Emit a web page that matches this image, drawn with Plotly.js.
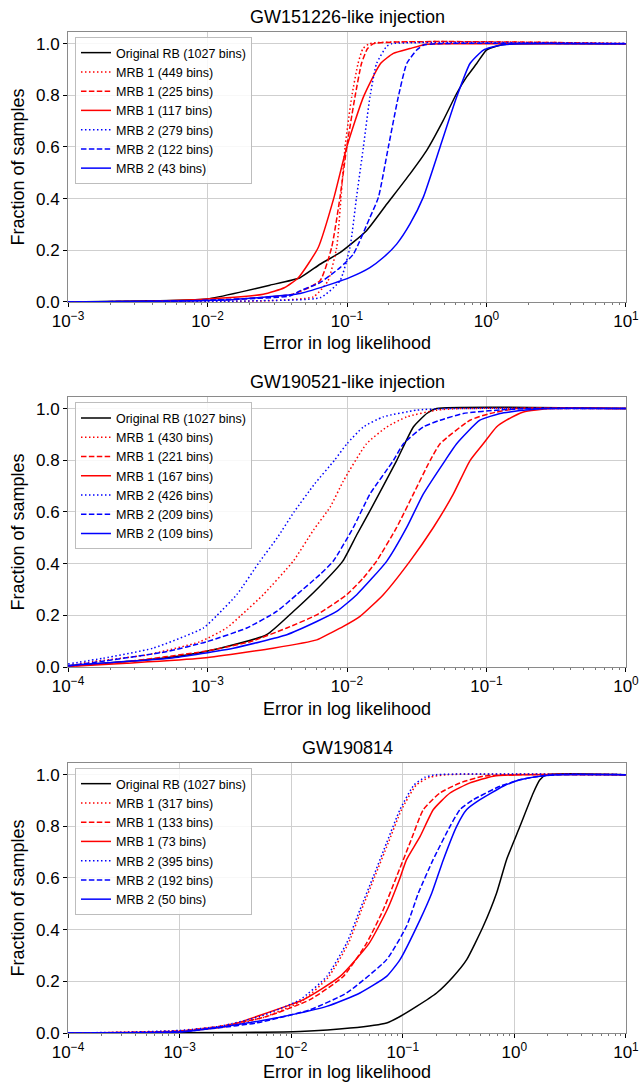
<!DOCTYPE html>
<html>
<head>
<meta charset="utf-8">
<script src="https://cdn.plot.ly/plotly-3.0.1.min.js"></script>
<style>html,body{margin:0;padding:0;background:#fff;}#chart{width:639px;height:1082px;}</style>
</head>
<body>
<div id="chart"></div>
<script>
// ---------- Panel titles, axis titles, legend labels, tick labels ----------
const panelTitles = ["GW151226-like injection", "GW190521-like injection", "GW190814"];
const p1Labels = ["Original RB (1027 bins)", "MRB 1 (449 bins)", "MRB 1 (225 bins)", "MRB 1 (117 bins)", "MRB 2 (279 bins)", "MRB 2 (122 bins)", "MRB 2 (43 bins)"];
const p2Labels = ["Original RB (1027 bins)", "MRB 1 (430 bins)", "MRB 1 (221 bins)", "MRB 1 (167 bins)", "MRB 2 (426 bins)", "MRB 2 (209 bins)", "MRB 2 (109 bins)"];
const p3Labels = ["Original RB (1027 bins)", "MRB 1 (317 bins)", "MRB 1 (133 bins)", "MRB 1 (73 bins)", "MRB 2 (395 bins)", "MRB 2 (192 bins)", "MRB 2 (50 bins)"];
const xTitle = "Error in log likelihood";
const yTitle = "Fraction of samples";
const p1TickVals = [0.001, 0.01, 0.1, 1, 10];
const p1TickText = ["10<sup>\u22123</sup>", "10<sup>\u22122</sup>", "10<sup>\u22121</sup>", "10<sup>0</sup>", "10<sup>1</sup>"];
const p2TickVals = [0.0001, 0.001, 0.01, 0.1, 1];
const p2TickText = ["10<sup>\u22124</sup>", "10<sup>\u22123</sup>", "10<sup>\u22122</sup>", "10<sup>\u22121</sup>", "10<sup>0</sup>"];
const p3TickVals = [0.0001, 0.001, 0.01, 0.1, 1, 10];
const p3TickText = ["10<sup>\u22124</sup>", "10<sup>\u22123</sup>", "10<sup>\u22122</sup>", "10<sup>\u22121</sup>", "10<sup>0</sup>", "10<sup>1</sup>"];

// ---------- Panel 1: GW151226-like ----------
const p1_black_x = [0.001, 0.00316, 0.01, 0.0178, 0.028, 0.046, 0.064, 0.089, 0.138, 0.193, 0.283, 0.372, 0.49, 0.611, 0.721, 0.851, 1.0, 1.25, 1.64, 10];
const p1_black_y = [0, 0.004, 0.012, 0.04, 0.065, 0.094, 0.146, 0.191, 0.276, 0.379, 0.496, 0.586, 0.703, 0.807, 0.871, 0.923, 0.975, 0.994, 1.0, 1.0];
const p1_r449_x = [0.001, 0.01, 0.0282, 0.0575, 0.0731, 0.0843, 0.0906, 0.0968, 0.108, 0.120, 0.13, 0.145, 10];
const p1_r449_y = [0, 0.002, 0.005, 0.02, 0.082, 0.211, 0.405, 0.599, 0.793, 0.923, 0.98, 1.0, 1.0];
const p1_r225_x = [0.001, 0.0063, 0.0145, 0.041, 0.064, 0.0776, 0.0891, 0.0995, 0.114, 0.127, 0.14, 0.155, 10];
const p1_r225_y = [0, 0.004, 0.01, 0.03, 0.082, 0.211, 0.405, 0.599, 0.793, 0.923, 0.98, 1.0, 1.0];
const p1_r117_x = [0.001, 0.00316, 0.0089, 0.0251, 0.0355, 0.0448, 0.0622, 0.0807, 0.0995, 0.131, 0.174, 0.215, 0.283, 0.372, 0.6, 10];
const p1_r117_y = [0, 0.002, 0.01, 0.03, 0.055, 0.094, 0.211, 0.405, 0.599, 0.793, 0.923, 0.962, 0.981, 0.998, 1.0, 1.0];
const p1_b279_x = [0.001, 0.01, 0.024, 0.0646, 0.0891, 0.105, 0.117, 0.131, 0.146, 0.163, 0.193, 0.21, 10];
const p1_b279_y = [0, 0.002, 0.005, 0.017, 0.082, 0.211, 0.405, 0.599, 0.793, 0.923, 0.99, 1.0, 1.0];
const p1_b122_x = [0.001, 0.0063, 0.0145, 0.0389, 0.046, 0.064, 0.0891, 0.111, 0.146, 0.168, 0.198, 0.233, 0.268, 0.316, 0.352, 0.447, 10];
const p1_b122_y = [0, 0.004, 0.01, 0.023, 0.043, 0.075, 0.133, 0.185, 0.327, 0.405, 0.6, 0.793, 0.923, 0.975, 0.994, 1.0, 1.0];
const p1_b43_x = [0.001, 0.0063, 0.0158, 0.046, 0.0798, 0.105, 0.146, 0.182, 0.227, 0.283, 0.352, 0.465, 0.611, 0.762, 0.951, 1.25, 1.8, 10];
const p1_b43_y = [0, 0.004, 0.01, 0.033, 0.072, 0.095, 0.133, 0.172, 0.224, 0.302, 0.405, 0.6, 0.793, 0.923, 0.975, 0.994, 1.0, 1.0];

// ---------- Panel 2: GW190521-like ----------
const p2_black_x = [0.0001, 0.000263, 0.000708, 0.00123, 0.00265, 0.00412, 0.00631, 0.00933, 0.0117, 0.0146, 0.0227, 0.0299, 0.0373, 0.044, 1];
const p2_black_y = [0.005, 0.021, 0.047, 0.073, 0.125, 0.215, 0.31, 0.41, 0.51, 0.604, 0.799, 0.929, 0.981, 1.0, 1.0];
const p2_r430_x = [0.0001, 0.000151, 0.000366, 0.000883, 0.00137, 0.00174, 0.00251, 0.00412, 0.00575, 0.00759, 0.00942, 0.0138, 0.0193, 0.0268, 0.044, 0.0631, 1];
const p2_r430_y = [0.005, 0.021, 0.047, 0.098, 0.151, 0.2, 0.28, 0.41, 0.53, 0.62, 0.72, 0.864, 0.929, 0.968, 0.994, 1.0, 1.0];
const p2_r221_x = [0.0001, 0.000263, 0.000933, 0.00202, 0.0037, 0.00607, 0.00995, 0.0131, 0.0163, 0.0227, 0.0299, 0.0394, 0.0465, 0.0762, 0.106, 0.164, 1];
const p2_r221_y = [0.003, 0.021, 0.06, 0.098, 0.151, 0.202, 0.28, 0.345, 0.41, 0.54, 0.669, 0.799, 0.864, 0.955, 0.981, 1.0, 1.0];
const p2_r167_x = [0.0001, 0.000263, 0.000891, 0.00295, 0.00607, 0.00759, 0.00942, 0.0124, 0.0182, 0.0283, 0.0416, 0.0578, 0.0762, 0.0948, 0.118, 0.139, 0.184, 0.285, 1];
const p2_r167_y = [0.002, 0.015, 0.034, 0.073, 0.105, 0.131, 0.157, 0.196, 0.28, 0.41, 0.54, 0.669, 0.799, 0.864, 0.929, 0.955, 0.987, 1.0, 1.0];
const p2_b426_x = [0.0001, 0.000178, 0.000407, 0.000933, 0.00117, 0.00162, 0.00238, 0.00316, 0.00417, 0.00589, 0.00813, 0.01, 0.0131, 0.0182, 0.0316, 0.0501, 1];
const p2_b426_y = [0.012, 0.034, 0.073, 0.151, 0.2, 0.28, 0.41, 0.5, 0.6, 0.71, 0.8, 0.864, 0.929, 0.968, 0.994, 1.0, 1.0];
const p2_b209_x = [0.0001, 0.00017, 0.000513, 0.000986, 0.00191, 0.00313, 0.00436, 0.0064, 0.00798, 0.0111, 0.0146, 0.0215, 0.0254, 0.0352, 0.0465, 0.0682, 0.126, 0.205, 1];
const p2_b209_y = [0.005, 0.021, 0.06, 0.098, 0.151, 0.215, 0.28, 0.358, 0.41, 0.54, 0.669, 0.799, 0.864, 0.929, 0.955, 0.981, 0.995, 1.0, 1.0];
const p2_b109_x = [0.0001, 0.000126, 0.000537, 0.00153, 0.0037, 0.00607, 0.00843, 0.01175, 0.0193, 0.0268, 0.0352, 0.0505, 0.0611, 0.0897, 0.125, 0.147, 0.255, 1];
const p2_b109_y = [0.004, 0.01, 0.034, 0.073, 0.125, 0.176, 0.215, 0.28, 0.41, 0.54, 0.669, 0.799, 0.864, 0.955, 0.981, 0.987, 1.0, 1.0];

// ---------- Panel 3: GW190814 ----------
const p3_black_x = [0.0001, 0.00316, 0.012, 0.0337, 0.0716, 0.0944, 0.133, 0.201, 0.284, 0.374, 0.526, 0.693, 0.851, 1.122, 1.476, 1.694, 1.95, 10];
const p3_black_y = [0, 0.002, 0.006, 0.019, 0.039, 0.064, 0.103, 0.155, 0.219, 0.284, 0.413, 0.542, 0.671, 0.8, 0.929, 0.98, 1.0, 1.0];
const p3_r317_x = [0.0001, 0.000316, 0.001, 0.00251, 0.00562, 0.0126, 0.0214, 0.0324, 0.0427, 0.0562, 0.0741, 0.0977, 0.132, 0.174, 0.251, 10];
const p3_r317_y = [0, 0.002, 0.008, 0.024, 0.06, 0.125, 0.215, 0.345, 0.477, 0.606, 0.736, 0.865, 0.96, 0.99, 1.0, 1.0];
const p3_r133_x = [0.0001, 0.000316, 0.001, 0.00229, 0.00603, 0.01472, 0.0293, 0.0474, 0.0668, 0.0881, 0.116, 0.153, 0.215, 0.326, 0.527, 1.0, 10];
const p3_r133_y = [0, 0.002, 0.008, 0.026, 0.064, 0.129, 0.219, 0.348, 0.477, 0.606, 0.736, 0.865, 0.929, 0.968, 0.994, 1.0, 1.0];
const p3_r73_x = [0.0001, 0.000316, 0.001, 0.00263, 0.0049, 0.01285, 0.0274, 0.0501, 0.0724, 0.0944, 0.108, 0.143, 0.188, 0.265, 0.4, 0.647, 1.259, 10];
const p3_r73_y = [0, 0.002, 0.006, 0.026, 0.064, 0.129, 0.219, 0.348, 0.477, 0.6, 0.671, 0.761, 0.865, 0.929, 0.968, 0.994, 1.0, 1.0];
const p3_b395_x = [0.0001, 0.000316, 0.001, 0.00229, 0.00525, 0.012, 0.0208, 0.0314, 0.0413, 0.0545, 0.0716, 0.0944, 0.126, 0.158, 0.2, 10];
const p3_b395_y = [0, 0.003, 0.01, 0.026, 0.064, 0.129, 0.219, 0.348, 0.477, 0.606, 0.736, 0.865, 0.96, 0.99, 1.0, 1.0];
const p3_b192_x = [0.0001, 0.000316, 0.001, 0.00214, 0.0049, 0.01472, 0.0314, 0.0716, 0.108, 0.138, 0.187, 0.265, 0.326, 0.429, 0.743, 1.122, 1.694, 2.512, 10];
const p3_b192_y = [0, 0.001, 0.005, 0.019, 0.039, 0.09, 0.155, 0.284, 0.413, 0.542, 0.671, 0.8, 0.865, 0.903, 0.955, 0.98, 0.994, 1.0, 1.0];
const p3_b50_x = [0.0001, 0.000316, 0.001, 0.00263, 0.00851, 0.0208, 0.0413, 0.0716, 0.0944, 0.143, 0.182, 0.231, 0.304, 0.374, 0.492, 0.794, 1.122, 1.694, 2.512, 10];
const p3_b50_y = [0, 0.001, 0.004, 0.026, 0.064, 0.103, 0.155, 0.219, 0.284, 0.439, 0.542, 0.671, 0.8, 0.865, 0.903, 0.955, 0.98, 0.994, 1.0, 1.0];

// ---------- Build ----------
const FONT = "Liberation Sans, Arial, Helvetica, sans-serif";
const styles = [
  {color: "#000000", dash: "solid"},
  {color: "#ff0000", dash: "1.5px,2.5px"},
  {color: "#ff0000", dash: "5.5px,2.4px"},
  {color: "#ff0000", dash: "solid"},
  {color: "#0000ff", dash: "1.5px,2.5px"},
  {color: "#0000ff", dash: "5.5px,2.4px"},
  {color: "#0000ff", dash: "solid"}
];
const panels = [
  {labels: p1Labels, tv: p1TickVals, tt: p1TickText,
   xs: [p1_black_x, p1_r449_x, p1_r225_x, p1_r117_x, p1_b279_x, p1_b122_x, p1_b43_x],
   ys: [p1_black_y, p1_r449_y, p1_r225_y, p1_r117_y, p1_b279_y, p1_b122_y, p1_b43_y]},
  {labels: p2Labels, tv: p2TickVals, tt: p2TickText,
   xs: [p2_black_x, p2_r430_x, p2_r221_x, p2_r167_x, p2_b426_x, p2_b209_x, p2_b109_x],
   ys: [p2_black_y, p2_r430_y, p2_r221_y, p2_r167_y, p2_b426_y, p2_b209_y, p2_b109_y]},
  {labels: p3Labels, tv: p3TickVals, tt: p3TickText,
   xs: [p3_black_x, p3_r317_x, p3_r133_x, p3_r73_x, p3_b395_x, p3_b192_x, p3_b50_x],
   ys: [p3_black_y, p3_r317_y, p3_r133_y, p3_r73_y, p3_b395_y, p3_b192_y, p3_b50_y]}
];
const traces = [];
panels.forEach((p, i) => {
  const suf = i === 0 ? "" : String(i + 1);
  p.xs.forEach((xv, k) => {
    traces.push({
      type: "scatter", mode: "lines", x: xv, y: p.ys[k], name: p.labels[k],
      xaxis: "x" + suf, yaxis: "y" + suf, legend: "legend" + suf,
      line: {color: styles[k].color, dash: styles[k].dash, width: 1.5, shape: "spline", smoothing: 0.5},
      hoverinfo: "skip"
    });
  });
});

function minorTicks(tv) {
  const out = [];
  for (let j = 0; j < tv.length - 1; j++) {
    for (let m = 2; m <= 9; m++) out.push(tv[j] * m);
  }
  return out;
}

const domains = [[0.7303, 1], [0.3656, 0.6354], [0, 0.2697]];
const legendTops = [0.995, 0.630, 0.2647];
const EPS = 0.0004;
const layout = {
  width: 639, height: 1082,
  margin: {l: 68, r: 13, t: 32, b: 49},
  paper_bgcolor: "#ffffff", plot_bgcolor: "#ffffff",
  font: {family: FONT, size: 14, color: "#000"},
  showlegend: true,
  annotations: []
};
domains.forEach((d, i) => {
  const suf = i === 0 ? "" : String(i + 1);
  const tv = panels[i].tv;
  layout["xaxis" + suf] = {
    type: "log", range: [Math.log10(tv[0]) - EPS, Math.log10(tv[tv.length - 1]) + EPS], anchor: "y" + suf, domain: [0, 1],
    tickmode: "array", tickvals: tv, ticktext: panels[i].tt, ticklabeloverflow: "allow",
    showgrid: true, gridcolor: "#cfcfcf", gridwidth: 1,
    showline: true, linecolor: "#8a8a8a", linewidth: 1, mirror: true,
    ticks: "outside", ticklen: 4, tickcolor: "#000", tickwidth: 1,
    tickfont: {family: FONT, size: 17, color: "#000"},
    minor: {tickmode: "array", tickvals: minorTicks(tv), ticks: "outside", ticklen: 2, tickcolor: "#555", tickwidth: 0.8, showgrid: false},
    title: {text: xTitle, font: {family: FONT, size: 18, color: "#000"}, standoff: 6},
    zeroline: false, fixedrange: true, automargin: false
  };
  layout["yaxis" + suf] = {
    range: [0, 1.045], domain: d, anchor: "x" + suf,
    dtick: 0.2, tick0: 0, tickformat: ".1f",
    showgrid: true, gridcolor: "#cfcfcf", gridwidth: 1,
    showline: true, linecolor: "#8a8a8a", linewidth: 1, mirror: true,
    ticks: "outside", ticklen: 4, tickcolor: "#000", tickwidth: 1,
    tickfont: {family: FONT, size: 17, color: "#000"},
    title: {text: yTitle, font: {family: FONT, size: 18, color: "#000"}, standoff: 6},
    zeroline: false, fixedrange: true
  };
  layout["legend" + suf] = {
    x: 0.0125, y: legendTops[i], xanchor: "left", yanchor: "top",
    bgcolor: "rgba(255,255,255,0.85)", bordercolor: "#bdbdbd", borderwidth: 1,
    font: {family: FONT, size: 12.5, color: "#000"},
    itemwidth: 30, tracegroupgap: 0
  };
  layout.annotations.push({
    text: panelTitles[i], xref: "paper", yref: "paper", x: 0.5, y: d[1],
    xanchor: "center", yanchor: "bottom", yshift: 3, showarrow: false,
    font: {family: FONT, size: 18, color: "#000"}
  });
});

Plotly.newPlot("chart", traces, layout, {displayModeBar: false, staticPlot: true});
</script>
</body>
</html>
